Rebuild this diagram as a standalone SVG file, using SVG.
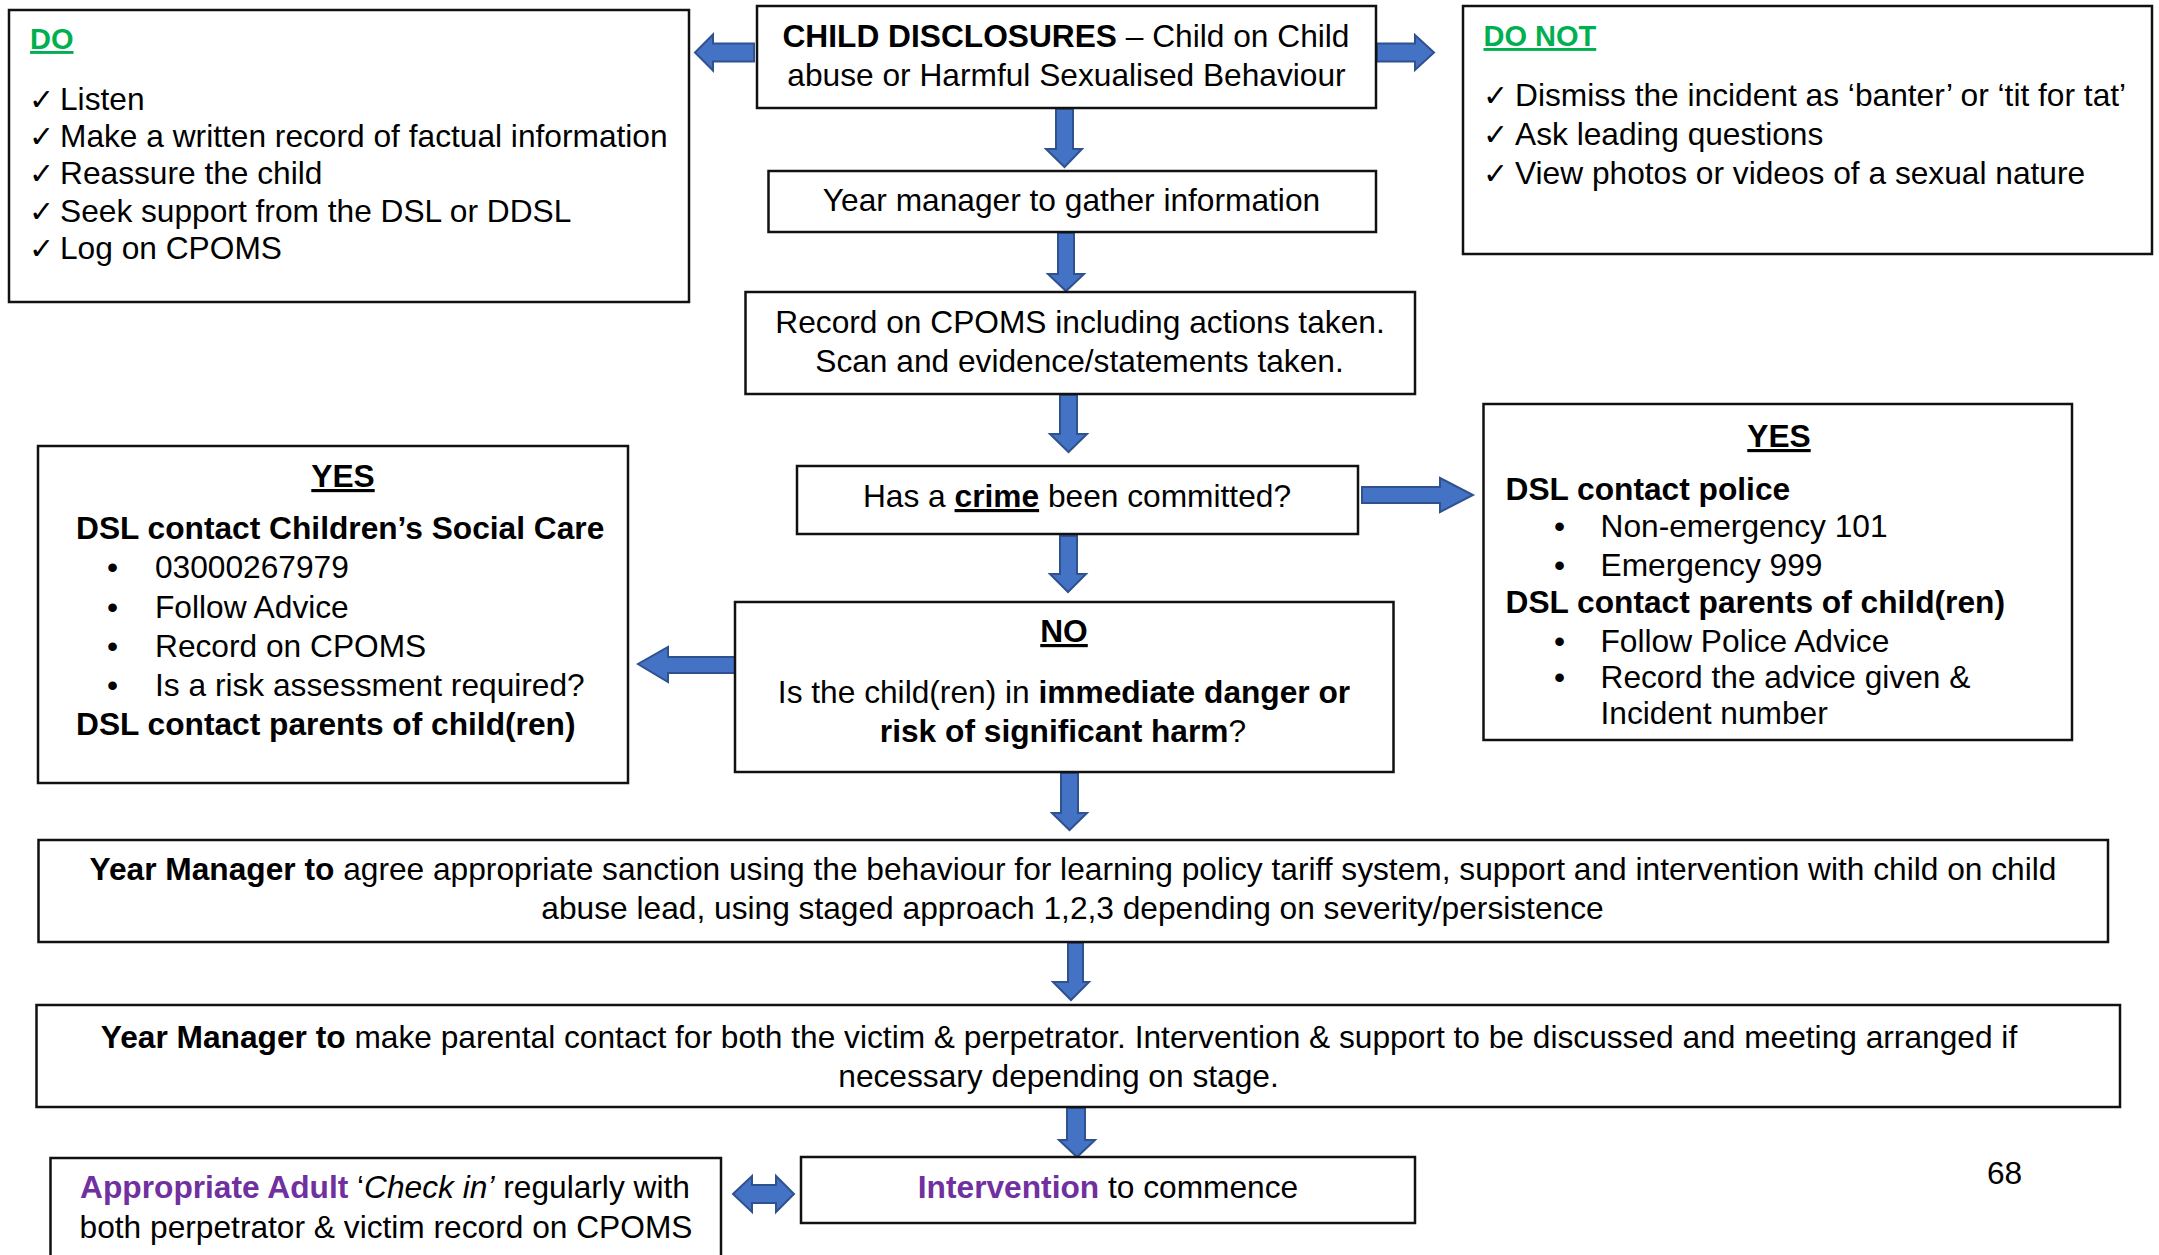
<svg xmlns="http://www.w3.org/2000/svg" width="2159" height="1255" viewBox="0 0 2159 1255">
<style>
.box{fill:#fff;stroke:#111;stroke-width:2.5}
.t{font-family:'Liberation Sans',Arial,sans-serif;font-size:31.7px;fill:#000}
.c{text-anchor:middle}
.b{font-weight:bold}
.u{text-decoration:underline}
.g{fill:#00B050;font-weight:bold;font-size:29px;text-decoration:underline}
.p{fill:#7030A0;font-weight:bold}
.ck{font-family:'DejaVu Sans',sans-serif;font-size:30px;fill:#000}
.arr{fill:#4472C4;stroke:#2F528F;stroke-width:2;stroke-linejoin:miter}
</style>
<rect width="2159" height="1255" fill="#fff"/>

<g id="connectors">
<path class="arr" d="M754,43.5 L713,43.5 L713,34.5 L695,52.5 L713,70.5 L713,61.5 L754,61.5 Z"/>
<path class="arr" d="M1377,43.5 L1415,43.5 L1415,35 L1434,52.5 L1415,70 L1415,61.5 L1377,61.5 Z"/>
<path class="arr" d="M1056,109 L1073,109 L1073,149 L1082,149 L1064.5,167 L1046,149 L1056,149 Z"/>
<path class="arr" d="M1058,233 L1074,233 L1074,274 L1084,274 L1066,291 L1048,274 L1058,274 Z"/>
<path class="arr" d="M1060,395 L1077,395 L1077,434 L1087,434 L1068.5,452 L1050,434 L1060,434 Z"/>
<path class="arr" d="M1060,536 L1077,536 L1077,574 L1086,574 L1068,592 L1050,574 L1060,574 Z"/>
<path class="arr" d="M1362,487 L1440,487 L1440,478 L1473,495 L1440,512 L1440,503 L1362,503 Z"/>
<path class="arr" d="M735,657 L668,657 L668,647 L638,664 L668,682 L668,673 L735,673 Z"/>
<path class="arr" d="M1061,773 L1078,773 L1078,813 L1087,813 L1069.5,830 L1052,813 L1061,813 Z"/>
<path class="arr" d="M1068,943 L1083,943 L1083,982 L1089,982 L1071,1000 L1053,982 L1068,982 Z"/>
<path class="arr" d="M1067,1108 L1085,1108 L1085,1140 L1095,1140 L1077,1157 L1059,1140 L1067,1140 Z"/>
<path class="arr" d="M733,1194 L752,1176 L752,1185 L776,1185 L776,1176 L794,1194 L776,1212 L776,1203 L752,1203 L752,1212 Z"/>
</g>

<g id="do">
<rect class="box" x="9" y="10" width="680" height="292"/>
<text class="t g" x="30" y="49">DO</text>
<text class="ck" x="29" y="110">✓</text><text class="t" x="60" y="110">Listen</text>
<text class="ck" x="29" y="147">✓</text><text class="t" x="60" y="147">Make a written record of factual information</text>
<text class="ck" x="29" y="184">✓</text><text class="t" x="60" y="184">Reassure the child</text>
<text class="ck" x="29" y="222">✓</text><text class="t" x="60" y="222">Seek support from the DSL or DDSL</text>
<text class="ck" x="29" y="259">✓</text><text class="t" x="60" y="259">Log on CPOMS</text>
</g>

<g id="title">
<rect class="box" x="757" y="6" width="619" height="102"/>
<text class="t c" x="1066" y="47"><tspan class="b">CHILD DISCLOSURES</tspan> – Child on Child</text>
<text class="t c" x="1066.5" y="86">abuse or Harmful Sexualised Behaviour</text>
</g>

<g id="donot">
<rect class="box" x="1463" y="6" width="689" height="248"/>
<text class="t g" x="1483.5" y="46">DO NOT</text>
<text class="ck" x="1483" y="106">✓</text><text class="t" x="1515" y="106">Dismiss the incident as ‘banter’ or ‘tit for tat’</text>
<text class="ck" x="1483" y="145">✓</text><text class="t" x="1515" y="145">Ask leading questions</text>
<text class="ck" x="1483" y="184">✓</text><text class="t" x="1515" y="184">View photos or videos of a sexual nature</text>
</g>

<g id="gather">
<rect class="box" x="768.5" y="171" width="607.5" height="61"/>
<text class="t c" x="1071.5" y="211">Year manager to gather information</text>
</g>

<g id="record">
<rect class="box" x="745.5" y="292" width="669.5" height="102"/>
<text class="t c" x="1080" y="333">Record on CPOMS including actions taken.</text>
<text class="t c" x="1079.5" y="372">Scan and evidence/statements taken.</text>
</g>

<g id="crime">
<rect class="box" x="797" y="466" width="561" height="68"/>
<text class="t c" x="1077" y="507">Has a <tspan class="b u">crime</tspan> been committed?</text>
</g>

<g id="yes-left">
<rect class="box" x="38" y="446" width="590" height="337"/>
<text class="t c b u" x="343" y="487">YES</text>
<text class="t b" x="76" y="539">DSL contact Children’s Social Care</text>
<text class="t" x="107" y="578">•</text><text class="t" x="155" y="578">03000267979</text>
<text class="t" x="107" y="618">•</text><text class="t" x="155" y="618">Follow Advice</text>
<text class="t" x="107" y="657">•</text><text class="t" x="155" y="657">Record on CPOMS</text>
<text class="t" x="107" y="696">•</text><text class="t" x="155" y="696">Is a risk assessment required?</text>
<text class="t b" x="76" y="735">DSL contact parents of child(ren)</text>
</g>

<g id="no">
<rect class="box" x="735" y="602" width="658.5" height="170"/>
<text class="t c b u" x="1064" y="642">NO</text>
<text class="t c" x="1064" y="703">Is the child(ren) in <tspan class="b">immediate danger or</tspan></text>
<text class="t c" x="1063" y="742"><tspan class="b">risk of significant harm</tspan>?</text>
</g>

<g id="yes-right">
<rect class="box" x="1483.5" y="404" width="588.5" height="336"/>
<text class="t c b u" x="1779" y="447">YES</text>
<text class="t b" x="1505.5" y="500">DSL contact police</text>
<text class="t" x="1554" y="537">•</text><text class="t" x="1600.5" y="537">Non-emergency 101</text>
<text class="t" x="1554" y="576">•</text><text class="t" x="1600.5" y="576">Emergency 999</text>
<text class="t b" x="1505.5" y="613">DSL contact parents of child(ren)</text>
<text class="t" x="1554" y="652">•</text><text class="t" x="1600.5" y="652">Follow Police Advice</text>
<text class="t" x="1554" y="688">•</text><text class="t" x="1600.5" y="688">Record the advice given &amp;</text>
<text class="t" x="1600.5" y="724">Incident number</text>
</g>

<g id="sanction">
<rect class="box" x="38.5" y="840" width="2069.5" height="102"/>
<text class="t c" x="1073" y="880"><tspan class="b">Year Manager to</tspan> agree appropriate sanction using the behaviour for learning policy tariff system, support and intervention with child on child</text>
<text class="t c" x="1072.5" y="919">abuse lead, using staged approach 1,2,3 depending on severity/persistence</text>
</g>

<g id="parental">
<rect class="box" x="36.5" y="1005" width="2083.5" height="102"/>
<text class="t c" x="1059" y="1048"><tspan class="b">Year Manager to</tspan> make parental contact for both the victim &amp; perpetrator. Intervention &amp; support to be discussed and meeting arranged if</text>
<text class="t c" x="1058.5" y="1087">necessary depending on stage.</text>
</g>

<g id="appropriate-adult">
<rect class="box" x="50.5" y="1158" width="670.5" height="110"/>
<text class="t c" x="385" y="1198"><tspan class="p">Appropriate Adult</tspan> ‘<tspan font-style="italic">Check in’</tspan> regularly with</text>
<text class="t c" x="386" y="1238">both perpetrator &amp; victim record on CPOMS</text>
</g>

<g id="intervention">
<rect class="box" x="801" y="1157" width="614" height="66"/>
<text class="t c" x="1108" y="1198"><tspan class="p">Intervention</tspan> to commence</text>
</g>

<text class="t" x="1987" y="1184" font-size="28">68</text>
</svg>
